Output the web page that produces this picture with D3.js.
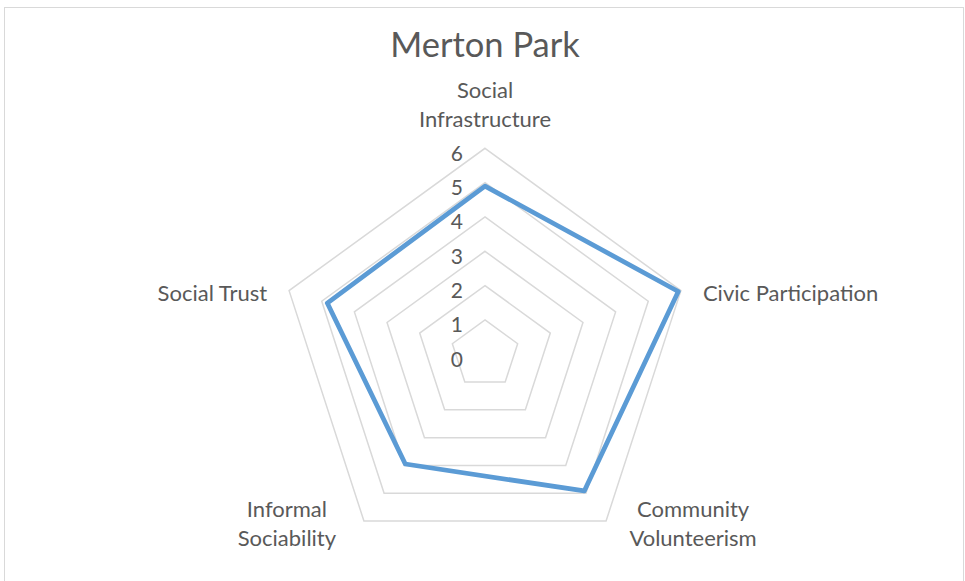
<!DOCTYPE html>
<html>
<head>
<meta charset="utf-8">
<script src="https://cdn.jsdelivr.net/npm/d3@7"></script>
<style>
  body { margin: 0; background: #fff; }
  text { font-family: Lato, "Open Sans", sans-serif; fill: #595959; }
</style>
</head>
<body>
<div id="chart"></div>
<script>
// chart data
var title = "Merton Park";
var categories = ["Social Infrastructure", "Civic Participation", "Community Volunteerism", "Informal Sociability", "Social Trust"];
var categoryLines = [["Social", "Infrastructure"], ["Civic Participation"], ["Community", "Volunteerism"], ["Informal", "Sociability"], ["Social Trust"]];
var values = [4.9, 5.92, 4.92, 3.95, 4.83];
var tickValues = [0, 1, 2, 3, 4, 5, 6];

var width = 965, height = 581;
var cx = 485, cy = 354.3, radius = 206;

var svg = d3.select("#chart")
  .append("svg")
    .attr("width", width)
    .attr("height", height);

// chart frame
svg.append("rect")
  .attr("x", 4.5).attr("y", 7.5)
  .attr("width", 959).attr("height", 590)
  .attr("fill", "#fff")
  .attr("stroke", "#d9d9d9")
  .attr("stroke-width", 1);

svg.append("text")
  .attr("x", cx).attr("y", 57)
  .attr("text-anchor", "middle")
  .style("font-size", "34.5px")
  .text(title);

var g = svg.append("g")
  .attr("transform", "translate(" + cx + "," + cy + ")");

var r = d3.scaleLinear().domain([0, 6]).range([0, radius]);
var angle = d3.scalePoint()
  .domain(categories)
  .range([0, 2 * Math.PI * (categories.length - 1) / categories.length]);

function pt(cat, v) {
  var a = angle(cat);
  return [r(v) * Math.sin(a), -r(v) * Math.cos(a)];
}

// grid pentagons
g.selectAll(".grid")
  .data(tickValues.slice(1))
  .enter()
  .append("polygon")
    .attr("class", "grid")
    .attr("points", function(t) {
      return categories.map(function(c) { return pt(c, t).join(","); }).join(" ");
    })
    .attr("fill", "none")
    .attr("stroke", "#d9d9d9")
    .attr("stroke-width", 1.5);

// series line
var line = d3.lineRadial()
  .angle(function(d, i) { return angle(categories[i]); })
  .radius(function(d) { return r(d); })
  .curve(d3.curveLinearClosed);

g.append("path")
  .datum(values)
  .attr("d", line)
  .attr("fill", "none")
  .attr("stroke", "#5b9bd5")
  .attr("stroke-width", 4.75)
  .attr("stroke-linejoin", "round");

// tick labels
g.selectAll(".tick")
  .data(tickValues)
  .enter()
  .append("text")
    .attr("class", "tick")
    .attr("x", -22)
    .attr("y", function(t) { return -r(t) + 5; })
    .attr("dy", "0.35em")
    .attr("text-anchor", "end")
    .style("font-size", "21px")
    .text(function(t) { return t; });

// category labels
var lineH = 29.5;
var labels = g.selectAll(".cat")
  .data(categories)
  .enter()
  .append("text")
    .attr("class", "cat")
    .style("font-size", "22px")
    .attr("text-anchor", function(c) {
      var s = Math.sin(angle(c));
      return Math.abs(s) > 0.9 ? (s > 0 ? "start" : "end") : "middle";
    })
    .attr("transform", function(c, i) {
      var p = pt(c, 6), a = angle(c), s = Math.sin(a);
      var n = categoryLines[i].length;
      var x = p[0], y = p[1];
      if (Math.abs(s) < 0.1) { y = y - 29 - (n - 1) * lineH; }
      else if (Math.abs(s) > 0.9) { x = x + (s > 0 ? 22 : -22); y = y + 3; }
      else { x = x + (s > 0 ? 87 : -77); y = y - 12; }
      return "translate(" + x + "," + y + ")";
    });

labels.selectAll("tspan")
  .data(function(c, i) { return categoryLines[i]; })
  .enter()
  .append("tspan")
    .attr("x", 0)
    .attr("y", function(d, j) { return j * lineH; })
    .attr("dy", "0.35em")
    .text(function(d) { return d; });
</script>
</body>
</html>
